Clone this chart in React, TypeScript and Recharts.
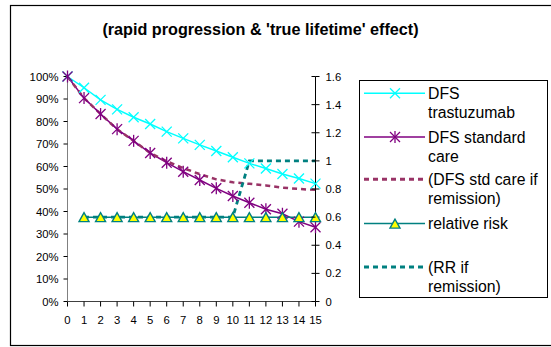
import React from 'react';
import { ComposedChart, Line, XAxis, YAxis } from 'recharts';

const years = [0, 1, 2, 3, 4, 5, 6, 7, 8, 9, 10, 11, 12, 13, 14, 15];
const dfsTrastuzumab = [100, 95.0, 89.6, 85.4, 81.9, 78.9, 75.5, 72.5, 69.6, 66.9, 64.1, 61.4, 59.1, 56.7, 54.7, 52.4];
const dfsStandard = [100, 90.4, 83.3, 76.6, 71.4, 66.0, 61.7, 57.7, 54.0, 50.3, 46.9, 43.9, 41.0, 39.0, 35.5, 33.0];
const dfsStdRemission = [100, 90.4, 83.3, 76.6, 71.4, 66.0, 62.3, 59.3, 56.6, 54.3, 53.0, 52.3, 51.6, 50.6, 50.0, 49.6];
const relativeRisk = [null, 0.6, 0.6, 0.6, 0.6, 0.6, 0.6, 0.6, 0.6, 0.6, 0.6, 0.6, 0.6, 0.6, 0.6, 0.6];
const rrRemission = [null, 0.6, 0.6, 0.6, 0.6, 0.6, 0.6, 0.6, 0.6, 0.6, 0.6, 1.0, 1.0, 1.0, 1.0, 1.0];

const leftTicks = [0, 10, 20, 30, 40, 50, 60, 70, 80, 90, 100];
const rightTicks = [0, 0.2, 0.4, 0.6, 0.8, 1, 1.2, 1.4, 1.6];
const title = "(rapid progression & 'true lifetime' effect)";

const CYAN = '#00FFFF';
const PURPLE = '#800080';
const MAROON = '#993366';
const TEAL = '#008080';
const YELLOW = '#FFFF00';
const FONT = '"Liberation Sans", Arial, sans-serif';

const data = years.map((t, i) => ({
  t,
  trast: dfsTrastuzumab[i],
  std: dfsStandard[i],
  stdRem: dfsStdRemission[i],
  rr: relativeRisk[i],
  rrRem: rrRemission[i],
}));

const XMark = ({ cx, cy, color, s = 5 }: any) => (
  <g>
    <line x1={cx - s} y1={cy - s} x2={cx + s} y2={cy + s} stroke={color} strokeWidth={1.3} />
    <line x1={cx - s} y1={cy + s} x2={cx + s} y2={cy - s} stroke={color} strokeWidth={1.3} />
  </g>
);

const StarMark = ({ cx, cy, color, s = 5 }: any) => (
  <g>
    <line x1={cx - s} y1={cy - s} x2={cx + s} y2={cy + s} stroke={color} strokeWidth={1.3} />
    <line x1={cx - s} y1={cy + s} x2={cx + s} y2={cy - s} stroke={color} strokeWidth={1.3} />
    <line x1={cx} y1={cy - s - 1} x2={cx} y2={cy + s + 1} stroke={color} strokeWidth={1.3} />
  </g>
);

const TriMark = ({ cx, cy }: any) => (
  <polygon
    points={`${cx},${cy - 4.5} ${cx - 5},${cy + 4.5} ${cx + 5},${cy + 4.5}`}
    fill={YELLOW}
    stroke={TEAL}
    strokeWidth={1.4}
  />
);

const dotFn = (kind: string, color: string) => (props: any) => {
  const { cx, cy, index } = props;
  if (cx == null || cy == null || isNaN(cx) || isNaN(cy)) return <g key={`e-${kind}-${index}`} />;
  if (kind === 'x') return <g key={`x-${index}`}><XMark cx={cx} cy={cy} color={color} /></g>;
  if (kind === 'star') return <g key={`s-${index}`}><StarMark cx={cx} cy={cy} color={color} /></g>;
  return <g key={`t-${index}`}><TriMark cx={cx} cy={cy} /></g>;
};

const RightTick = (props: any) => {
  const { x, y, payload } = props;
  const axisX = x - 6 - 4;
  return (
    <g>
      <line x1={axisX - 4} y1={y} x2={axisX} y2={y} stroke="#000" strokeWidth={1} />
      <text x={x} y={y} dy="0.36em" textAnchor="start" fontSize={11.3} fill="#000" fontFamily={FONT}>
        {String(payload.value)}
      </text>
    </g>
  );
};

const legendItems = [
  { lines: ['DFS', 'trastuzumab'], color: CYAN, dash: undefined, width: 1.5, marker: 'x' },
  { lines: ['DFS standard', 'care'], color: PURPLE, dash: undefined, width: 1.5, marker: 'star' },
  { lines: ['(DFS std care if', 'remission)'], color: MAROON, dash: '5 4', width: 3, marker: '' },
  { lines: ['relative risk'], color: TEAL, dash: undefined, width: 1.5, marker: 'tri' },
  { lines: ['(RR if', 'remission)'], color: TEAL, dash: '5 4', width: 3, marker: '' },
];
const legendBaselines = [99, 142.7, 185, 229.3, 272.7];

const Overlay = () => (
  <svg
    width={551}
    height={347}
    style={{ position: 'absolute', left: 0, top: 0, pointerEvents: 'none' }}
  >
    <rect x={10.5} y={5.5} width={560} height={340} fill="none" stroke="#000" strokeWidth={1.2} />
    <text x={260.5} y={35} textAnchor="middle" fontSize={16.2} fontWeight="bold" fontFamily={FONT} fill="#000">
      {title}
    </text>
    <rect x={359.5} y={80.5} width={188} height={217} fill="none" stroke="#000" strokeWidth={1} />
    {legendItems.map((it, i) => {
      const b = legendBaselines[i];
      const ly = b - 5.7;
      return (
        <g key={i}>
          <line x1={364} y1={ly} x2={425} y2={ly} stroke={it.color} strokeWidth={it.width} strokeDasharray={it.dash} />
          {it.marker === 'x' && <XMark cx={395} cy={ly} color={it.color} />}
          {it.marker === 'star' && <StarMark cx={395} cy={ly} color={it.color} />}
          {it.marker === 'tri' && <TriMark cx={395} cy={ly} />}
          {it.lines.map((ln, j) => (
            <text key={j} x={428} y={b + j * 19} fontSize={15.8} fontFamily={FONT} fill="#000">
              {ln}
            </text>
          ))}
        </g>
      );
    })}
  </svg>
);

export default function App() {
  return (
    <div style={{ position: 'absolute', left: 0, top: 0, width: 551, height: 347, background: '#fff' }}>
      <ComposedChart
        width={551}
        height={347}
        data={data}
        margin={{ top: 76.5, right: 205.5, left: 10, bottom: 15.5 }}
        style={{ fontFamily: FONT }}
      >
        <XAxis
          dataKey="t"
          type="number"
          domain={[0, 15]}
          ticks={years}
          interval={0}
          height={30}
          tickSize={5}
          tickMargin={9}
          axisLine={{ stroke: '#404040' }}
          tickLine={{ stroke: '#000' }}
          tick={{ fontSize: 11.3, fill: '#000' }}
        />
        <YAxis
          yAxisId="left"
          orientation="left"
          domain={[0, 100]}
          ticks={leftTicks}
          interval={0}
          width={57.5}
          tickSize={4}
          tickMargin={5}
          tickFormatter={(v: number) => `${v}%`}
          axisLine={{ stroke: '#808080' }}
          tickLine={{ stroke: '#000' }}
          tick={{ fontSize: 11.3, fill: '#000' }}
        />
        <YAxis
          yAxisId="right"
          orientation="right"
          domain={[0, 1.6]}
          ticks={rightTicks}
          interval={0}
          width={30}
          tickSize={4}
          tickMargin={6}
          axisLine={{ stroke: '#000' }}
          tickLine={{ stroke: '#000' }}
          tick={<RightTick />}
        />
        <Line
          yAxisId="left"
          dataKey="trast"
          stroke={CYAN}
          strokeWidth={1.5}
          dot={dotFn('x', CYAN)}
          isAnimationActive={false}
        />
        <Line
          yAxisId="left"
          dataKey="std"
          stroke={PURPLE}
          strokeWidth={1.5}
          dot={dotFn('star', PURPLE)}
          isAnimationActive={false}
        />
        <Line
          yAxisId="left"
          dataKey="stdRem"
          stroke={MAROON}
          strokeWidth={2.5}
          strokeDasharray="5 4"
          dot={false}
          isAnimationActive={false}
        />
        <Line
          yAxisId="right"
          dataKey="rr"
          stroke={TEAL}
          strokeWidth={1.5}
          dot={false}
          isAnimationActive={false}
        />
        <Line
          yAxisId="right"
          dataKey="rrRem"
          stroke={TEAL}
          strokeWidth={2.8}
          strokeDasharray="5 4"
          dot={false}
          isAnimationActive={false}
        />
        <Line
          yAxisId="right"
          dataKey="rr"
          stroke="none"
          strokeWidth={0}
          dot={dotFn('tri', TEAL)}
          legendType="none"
          isAnimationActive={false}
        />
      </ComposedChart>
      <Overlay />
    </div>
  );
}
